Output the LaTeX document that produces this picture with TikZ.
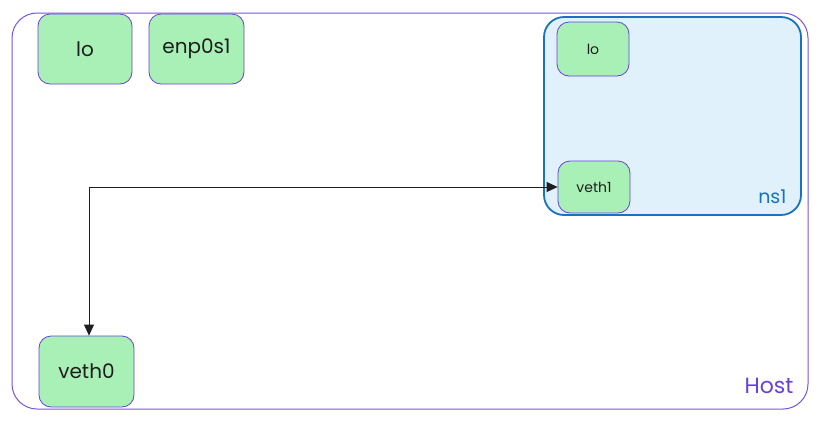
\documentclass[tikz,border=0pt]{standalone}
\usepackage{fontspec}
\setmainfont{Poppins}
\usetikzlibrary{arrows.meta}
\definecolor{hoststroke}{HTML}{6741D9}
\definecolor{greenfill}{HTML}{A8F0B6}
\definecolor{nsfill}{HTML}{E1F1FC}
\definecolor{nsstroke}{HTML}{1971C2}
\definecolor{ink}{HTML}{1E1E1E}
\tikzset{
  box/.style={draw=hoststroke, line width=0.8pt, fill=greenfill, rounded corners=12pt, inner sep=0pt, text=ink},
  link/.style={draw=ink, line width=0.8pt, {Triangle[length=11pt,width=10pt]}-{Triangle[length=11pt,width=10pt]}},
}
\begin{document}
\begin{tikzpicture}[x=1pt,y=-1pt]
\useasboundingbox (0,0) rectangle (828,429);
% Host
\draw[hoststroke!90, line width=1pt, rounded corners=25pt] (12,13) rectangle (808,409);
\node[text=hoststroke, font=\fontsize{22}{24}\selectfont, anchor=south east] (hostlbl) at (797,397) {Host};
% ns1
\draw[nsstroke, fill=nsfill, line width=1.8pt, rounded corners=20pt] (544,17) rectangle (801,215);
\node[text=nsstroke, font=\fontsize{19}{22}\selectfont, anchor=south east] (nslbl) at (790,207) {ns1};
% host nodes
\node[box, minimum width=94pt, minimum height=70pt, font=\fontsize{20}{22}\selectfont] (lo) at (85,49) {lo};
\node[box, minimum width=95pt, minimum height=70pt, font=\fontsize{20}{22}\selectfont] (enp) at (196.5,49) {enp0s1};
\node[box, minimum width=95pt, minimum height=71pt, font=\fontsize{20}{22}\selectfont] (veth0) at (86.5,371.5) {veth0};
% ns nodes
\node[box, minimum width=72pt, minimum height=54pt, font=\fontsize{14}{16}\selectfont] (lo2) at (593,49) {lo};
\node[box, minimum width=72pt, minimum height=52pt, font=\fontsize{14}{16}\selectfont] (veth1) at (594,187) {veth1};
% link
\coordinate (drop) at ([xshift=2.5pt]veth0.north);
\coordinate (corner) at (drop |- veth1.west);
\draw[link] (veth1.west) -- (corner) -- (drop);
\end{tikzpicture}
\end{document}
